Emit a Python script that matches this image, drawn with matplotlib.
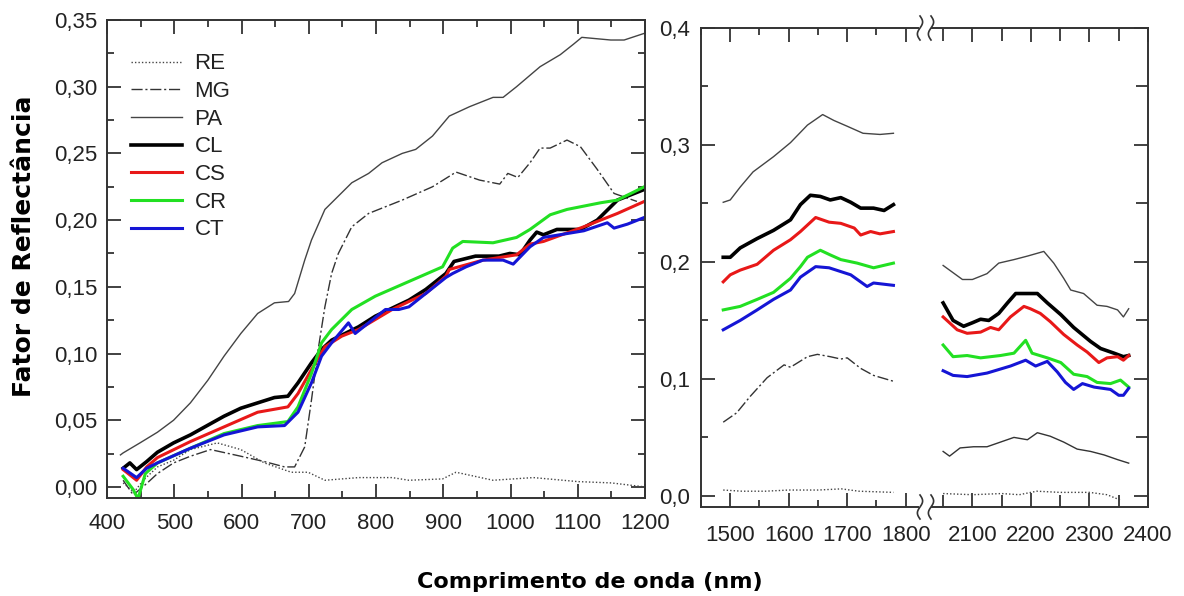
import numpy as np
import matplotlib
matplotlib.use("Agg")
import matplotlib.pyplot as plt
from matplotlib.ticker import MultipleLocator, FuncFormatter
from matplotlib.lines import Line2D

plt.rcParams['font.family'] = ['Liberation Sans', 'DejaVu Sans']

# ---- data: (wavelength nm, reflectance) ----
# visible / NIR panel
re_vis = [(424, 0.003), (440, -0.004), (454, 0.005), (475, 0.015), (499, 0.020), (524, 0.028),
          (564, 0.033), (599, 0.028), (634, 0.018), (674, 0.011), (699, 0.011), (724, 0.005),
          (774, 0.007), (824, 0.007), (849, 0.005), (899, 0.006), (919, 0.011), (974, 0.005),
          (1034, 0.007), (1100, 0.004), (1150, 0.003), (1200, 0.0)]
mg_vis = [(424, 0.005), (439, -0.006), (460, 0.003), (475, 0.010), (499, 0.018), (524, 0.023),
          (554, 0.028), (599, 0.023), (634, 0.019), (664, 0.015), (679, 0.015), (694, 0.030),
          (704, 0.065), (714, 0.103), (724, 0.135), (734, 0.160), (744, 0.175), (764, 0.195),
          (789, 0.205), (839, 0.215), (884, 0.225), (919, 0.236), (954, 0.230), (984, 0.227),
          (996, 0.235), (1011, 0.232), (1029, 0.243), (1044, 0.254), (1059, 0.254), (1084, 0.260),
          (1104, 0.255), (1129, 0.238), (1154, 0.220), (1188, 0.214)]
pa_vis = [(420, 0.024), (424, 0.0255), (449, 0.033), (475, 0.041), (499, 0.050), (524, 0.063),
          (550, 0.080), (574, 0.098), (599, 0.115), (624, 0.130), (649, 0.138), (670, 0.139),
          (679, 0.145), (694, 0.170), (704, 0.185), (724, 0.208), (764, 0.228), (789, 0.235),
          (809, 0.243), (839, 0.250), (859, 0.253), (884, 0.263), (909, 0.278), (939, 0.285),
          (974, 0.292), (989, 0.292), (1009, 0.300), (1044, 0.315), (1074, 0.324), (1094, 0.332),
          (1106, 0.337), (1149, 0.335), (1169, 0.335), (1199, 0.340)]
cl_vis = [(424, 0.014), (434, 0.018), (444, 0.013), (459, 0.019), (475, 0.026), (499, 0.033),
          (524, 0.039), (549, 0.046), (574, 0.053), (599, 0.059), (624, 0.063), (649, 0.067),
          (669, 0.068), (684, 0.078), (704, 0.093), (719, 0.103), (734, 0.110), (754, 0.115),
          (774, 0.120), (799, 0.128), (824, 0.134), (849, 0.140), (874, 0.148), (904, 0.160),
          (916, 0.169), (948, 0.173), (983, 0.173), (999, 0.175), (1014, 0.174), (1029, 0.185),
          (1039, 0.191), (1049, 0.189), (1069, 0.193), (1104, 0.193), (1129, 0.200),
          (1159, 0.215), (1199, 0.223)]
cs_vis = [(424, 0.013), (444, 0.005), (459, 0.015), (475, 0.022), (524, 0.034), (574, 0.045),
          (624, 0.056), (669, 0.060), (684, 0.070), (704, 0.088), (724, 0.105), (749, 0.113),
          (774, 0.118), (824, 0.133), (874, 0.145), (904, 0.158), (909, 0.163), (959, 0.170),
          (1009, 0.174), (1029, 0.182), (1049, 0.184), (1109, 0.195), (1159, 0.205), (1199, 0.214)]
cr_vis = [(424, 0.008), (439, -0.002), (446, -0.009), (457, 0.010), (475, 0.018), (524, 0.029),
          (574, 0.040), (624, 0.046), (669, 0.049), (684, 0.060), (704, 0.085), (719, 0.108),
          (734, 0.118), (764, 0.133), (799, 0.143), (849, 0.154), (899, 0.165), (914, 0.179),
          (929, 0.184), (974, 0.183), (1009, 0.187), (1029, 0.193), (1059, 0.204), (1084, 0.208),
          (1134, 0.213), (1159, 0.215), (1199, 0.225)]
ct_vis = [(424, 0.014), (444, 0.007), (459, 0.014), (475, 0.018), (524, 0.029), (574, 0.039),
          (624, 0.045), (664, 0.046), (684, 0.056), (704, 0.078), (719, 0.098), (734, 0.108),
          (759, 0.123), (769, 0.115), (789, 0.123), (814, 0.133), (834, 0.133), (849, 0.135),
          (874, 0.145), (904, 0.157), (914, 0.160), (934, 0.165), (959, 0.170), (989, 0.170),
          (1004, 0.167), (1029, 0.180), (1049, 0.187), (1109, 0.192), (1144, 0.198),
          (1154, 0.194), (1174, 0.197), (1199, 0.202)]

# SWIR 1
re_sw1 = [(1488, 0.005), (1520, 0.004), (1560, 0.004), (1600, 0.005), (1650, 0.005),
          (1690, 0.006), (1720, 0.004), (1779, 0.003)]
mg_sw1 = [(1488, 0.063), (1511, 0.071), (1534, 0.085), (1563, 0.101), (1592, 0.112),
          (1603, 0.110), (1632, 0.119), (1649, 0.121), (1671, 0.119), (1689, 0.117),
          (1700, 0.118), (1723, 0.109), (1745, 0.103), (1779, 0.098)]
pa_sw1 = [(1488, 0.251), (1500, 0.253), (1517, 0.264), (1539, 0.277), (1574, 0.290),
          (1603, 0.302), (1632, 0.317), (1658, 0.326), (1677, 0.321), (1700, 0.316),
          (1727, 0.310), (1756, 0.309), (1779, 0.310)]
cl_sw1 = [(1488, 0.204), (1500, 0.204), (1517, 0.212), (1546, 0.220), (1574, 0.227),
          (1603, 0.236), (1620, 0.249), (1637, 0.257), (1654, 0.256), (1671, 0.253),
          (1689, 0.255), (1706, 0.251), (1723, 0.246), (1745, 0.246), (1763, 0.244), (1779, 0.249)]
cs_sw1 = [(1488, 0.183), (1500, 0.189), (1517, 0.193), (1546, 0.198), (1574, 0.210),
          (1603, 0.219), (1620, 0.226), (1646, 0.238), (1669, 0.234), (1689, 0.233),
          (1712, 0.229), (1723, 0.223), (1740, 0.226), (1756, 0.224), (1779, 0.226)]
cr_sw1 = [(1488, 0.159), (1517, 0.162), (1546, 0.168), (1574, 0.174), (1603, 0.186),
          (1620, 0.196), (1632, 0.204), (1654, 0.210), (1671, 0.206), (1689, 0.202),
          (1717, 0.199), (1745, 0.195), (1779, 0.199)]
ct_sw1 = [(1488, 0.142), (1517, 0.150), (1546, 0.159), (1574, 0.168), (1603, 0.176),
          (1620, 0.187), (1646, 0.196), (1669, 0.195), (1706, 0.189), (1734, 0.179),
          (1745, 0.182), (1779, 0.180)]

# SWIR 2
re_sw2 = [(2050, 0.002), (2100, 0.001), (2150, 0.002), (2180, 0.001), (2210, 0.004),
          (2250, 0.003), (2300, 0.003), (2330, 0.001), (2355, -0.004)]
mg_sw2 = [(2050, 0.038), (2061, 0.034), (2079, 0.041), (2102, 0.042), (2125, 0.042),
          (2148, 0.046), (2171, 0.050), (2194, 0.048), (2211, 0.054), (2233, 0.051),
          (2256, 0.046), (2279, 0.040), (2302, 0.038), (2325, 0.035), (2348, 0.031), (2367, 0.028)]
pa_sw2 = [(2050, 0.197), (2083, 0.185), (2100, 0.185), (2125, 0.190), (2145, 0.199),
          (2171, 0.202), (2194, 0.205), (2222, 0.209), (2239, 0.199), (2256, 0.186),
          (2268, 0.176), (2290, 0.173), (2313, 0.163), (2330, 0.162), (2348, 0.159),
          (2358, 0.153), (2367, 0.160)]
cl_sw2 = [(2050, 0.165), (2067, 0.150), (2085, 0.145), (2100, 0.148), (2114, 0.151),
          (2128, 0.150), (2145, 0.156), (2160, 0.165), (2174, 0.173), (2211, 0.173),
          (2228, 0.165), (2251, 0.155), (2273, 0.144), (2302, 0.132), (2319, 0.126),
          (2342, 0.122), (2358, 0.119), (2367, 0.120)]
cs_sw2 = [(2050, 0.153), (2074, 0.142), (2091, 0.139), (2114, 0.140), (2131, 0.144),
          (2145, 0.142), (2165, 0.153), (2188, 0.162), (2199, 0.160), (2216, 0.156),
          (2233, 0.149), (2256, 0.138), (2279, 0.129), (2296, 0.123), (2316, 0.114),
          (2330, 0.118), (2348, 0.119), (2358, 0.116), (2367, 0.120)]
cr_sw2 = [(2050, 0.129), (2067, 0.119), (2091, 0.120), (2114, 0.118), (2148, 0.120),
          (2171, 0.122), (2191, 0.133), (2202, 0.122), (2228, 0.118), (2251, 0.114),
          (2273, 0.104), (2296, 0.102), (2313, 0.097), (2336, 0.096), (2353, 0.099), (2367, 0.093)]
ct_sw2 = [(2050, 0.107), (2067, 0.103), (2091, 0.102), (2125, 0.105), (2165, 0.111),
          (2191, 0.116), (2208, 0.111), (2228, 0.115), (2245, 0.106), (2259, 0.097),
          (2273, 0.091), (2288, 0.096), (2308, 0.093), (2336, 0.091), (2350, 0.086),
          (2358, 0.086), (2367, 0.092)]

labels = ['RE', 'MG', 'PA', 'CL', 'CS', 'CR', 'CT']
styles = {
    'RE': dict(color='#444444', lw=1.0, ls=(0, (1, 1.5))),
    'MG': dict(color='#333333', lw=1.0, ls=(0, (8, 2, 1.5, 2))),
    'PA': dict(color='#444444', lw=1.0, ls='-'),
    'CL': dict(color='black', lw=2.6, ls='-'),
    'CS': dict(color='#e81818', lw=2.2, ls='-'),
    'CR': dict(color='#22e022', lw=2.2, ls='-'),
    'CT': dict(color='#1515d5', lw=2.2, ls='-'),
}
vis = dict(RE=re_vis, MG=mg_vis, PA=pa_vis, CL=cl_vis, CS=cs_vis, CR=cr_vis, CT=ct_vis)
sw1 = dict(RE=re_sw1, MG=mg_sw1, PA=pa_sw1, CL=cl_sw1, CS=cs_sw1, CR=cr_sw1, CT=ct_sw1)
sw2 = dict(RE=re_sw2, MG=mg_sw2, PA=pa_sw2, CL=cl_sw2, CS=cs_sw2, CR=cr_sw2, CT=ct_sw2)

W, H = 1184, 596
fig = plt.figure(figsize=(W / 100, H / 100), dpi=100)


def px_axes(x0, y0, x1, y1):
    return fig.add_axes([x0 / W, 1 - y1 / H, (x1 - x0) / W, (y1 - y0) / H])


def style_axes(ax, lw=1.4):
    for s in ax.spines.values():
        s.set_linewidth(lw)
        s.set_color('#333333')
    ax.tick_params(which='both', direction='in', colors='#333333', width=1.3,
                   labelcolor='#222222', labelsize=16)
    ax.tick_params(which='major', length=10)
    ax.tick_params(which='minor', length=5)


def comma(fmt):
    return FuncFormatter(lambda v, p: (fmt % v).replace('.', ',').replace('-', ''))


ax1 = px_axes(107, 20, 645, 498)
ax2 = px_axes(701, 28, 918, 507)
ax3 = px_axes(932, 28, 1148, 507)

# left panel
for name in labels:
    wl, val = np.array(vis[name]).T
    ax1.plot(wl, val, label=name, **styles[name])
ax1.set_xlim(400, 1200)
ax1.set_ylim(-0.0083, 0.35)
ax1.xaxis.set_major_locator(MultipleLocator(100))
ax1.xaxis.set_minor_locator(MultipleLocator(50))
ax1.yaxis.set_major_locator(MultipleLocator(0.05))
ax1.yaxis.set_minor_locator(MultipleLocator(0.025))
ax1.yaxis.set_major_formatter(comma('%.2f'))
style_axes(ax1)
ax1.tick_params(which='both', top=True, right=True)
ax1.tick_params(axis='x', pad=11)
ax1.tick_params(axis='y', pad=7)

leg = ax1.legend(loc='upper left', bbox_to_anchor=(0.045, 0.93), frameon=False,
                 fontsize=16, handlelength=2.3, handletextpad=0.55, labelspacing=0.3,
                 borderpad=0, borderaxespad=0)
for t in leg.get_texts():
    t.set_color('#222222')

# right panels (broken axis)
for ax, data in ((ax2, sw1), (ax3, sw2)):
    for name in labels:
        wl, val = np.array(data[name]).T
        st = dict(styles[name])
        if ax is ax3 and name == 'MG':
            st['ls'] = '-'
        ax.plot(wl, val, **st)
    ax.set_ylim(-0.0095, 0.4)
    ax.xaxis.set_major_locator(MultipleLocator(100))
    ax.xaxis.set_minor_locator(MultipleLocator(50))
    ax.yaxis.set_major_locator(MultipleLocator(0.1))
    ax.yaxis.set_minor_locator(MultipleLocator(0.05))
    style_axes(ax)
    ax.tick_params(which='both', top=True)
    ax.tick_params(axis='x', pad=13)

ax2.set_xlim(1450, 1821)
ax2.spines['right'].set_visible(False)
ax2.tick_params(which='both', right=False)
ax2.yaxis.set_major_formatter(comma('%.1f'))
ax2.tick_params(axis='y', pad=8)

ax3.set_xlim(2031, 2400)
ax3.spines['left'].set_visible(False)
ax3.tick_params(which='both', left=False, labelleft=False, right=True)
ax3.tick_params(which='minor', length=9)

# break marks between the two SWIR panels
t = np.linspace(0, 1, 40)
for yc in (28, 507):
    for xc in (920, 931):
        xs = xc + 2.6 * np.sin(2 * np.pi * t)
        ys = yc - 12 + 24 * t
        fig.add_artist(Line2D(xs / W, 1 - ys / H, color='#333333', lw=1.2))

fig.text(24 / W, 1 - 246 / H, 'Fator de Reflectância', rotation=90, ha='center', va='center',
         fontsize=18, fontweight='bold', family=['DejaVu Sans'])
fig.text(590 / W, 1 - 582 / H, 'Comprimento de onda (nm)', ha='center', va='center',
         fontsize=16, fontweight='bold', family=['DejaVu Sans'])

fig.savefig('out.png', dpi=100)
